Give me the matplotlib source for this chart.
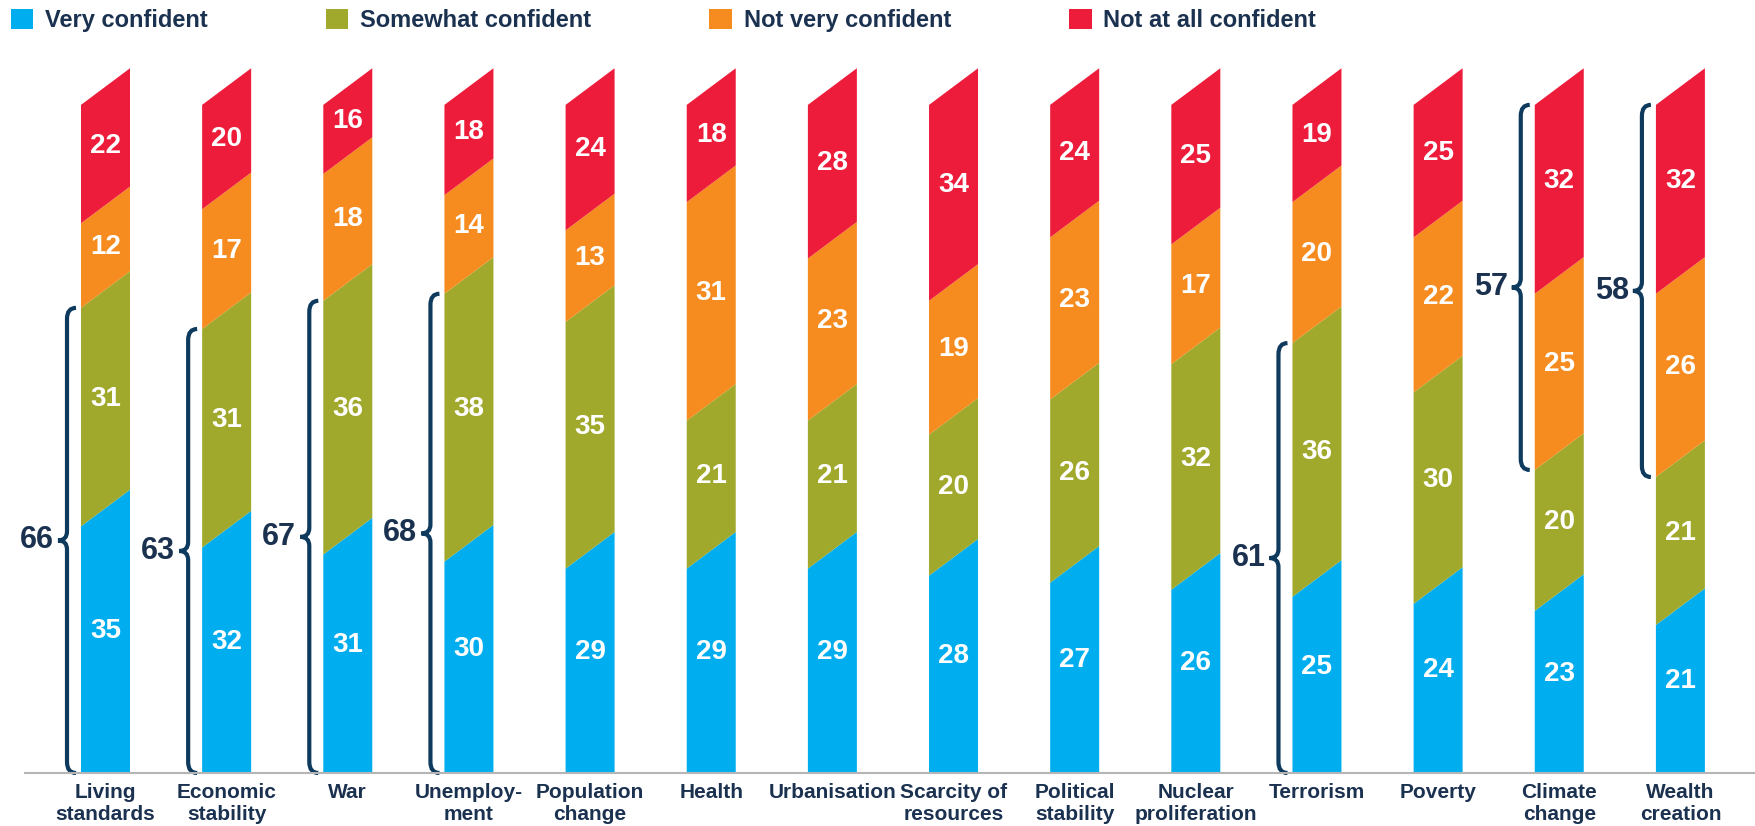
import numpy as np
import matplotlib
matplotlib.use("Agg")
import matplotlib.pyplot as plt
from matplotlib.patches import Polygon, Patch, PathPatch
from matplotlib.path import Path

plt.rcParams['font.family'] = ['Liberation Sans', 'DejaVu Sans']

categories = ["Living\nstandards", "Economic\nstability", "War", "Unemploy-\nment",
              "Population\nchange", "Health", "Urbanisation", "Scarcity of\nresources",
              "Political\nstability", "Nuclear\nproliferation", "Terrorism", "Poverty",
              "Climate\nchange", "Wealth\ncreation"]
very = [35, 32, 31, 30, 29, 29, 29, 28, 27, 26, 25, 24, 23, 21]
somewhat = [31, 31, 36, 38, 35, 21, 21, 20, 26, 32, 36, 30, 20, 21]
not_very = [12, 17, 18, 14, 13, 31, 23, 19, 23, 17, 20, 22, 25, 26]
not_at_all = [22, 20, 16, 18, 24, 18, 28, 34, 24, 25, 19, 25, 32, 32]
series_names = ["Very confident", "Somewhat confident", "Not very confident", "Not at all confident"]
colors = ["#00AEEF", "#A0A92C", "#F68B1F", "#EE1C3B"]

# braces: (bar index, which part, total shown)
brace_idx = [0, 1, 2, 3, 10, 12, 13]
brace_part = ["low", "low", "low", "low", "low", "high", "high"]
brace_val = [66, 63, 67, 68, 61, 57, 58]

navy = "#1B3150"
brace_col = "#0E3A5E"

W, H = 1756, 826
fig = plt.figure(figsize=(W / 100, H / 100), dpi=100)
ax = fig.add_axes([25 / W, 53 / H, 1 - 25 / W, 740 / H])

PXX = 1 / 121.15   # data units per pixel in x
PXY = 1 / 7.05     # data units per pixel in y
ax.set_xlim(-0.6645, 13.624)
ax.set_ylim(0, 105)

s = 5.2          # slant of segment borders
hw = 24.5 * PXX  # half bar width
data = np.array([very, somewhat, not_very, not_at_all])

for i in range(len(categories)):
    x0, x1 = i - hw, i + hw
    b = 0
    for j in range(4):
        v = data[j, i]
        t = b + v
        if j == 0:
            bottom = [(x0, 0), (x1, 0)]
        else:
            bottom = [(x0, b), (x1, b + s)]
        if j == 3:
            top = [(x1, 100), (x0, 100 - s)]
        else:
            top = [(x1, t + s), (x0, t)]
        ax.add_patch(Polygon(bottom + top, closed=True, facecolor=colors[j], edgecolor='none'))
        if j == 0:
            ly = (v + s) / 2
        elif j == 3:
            ly = (100 + b) / 2
        else:
            ly = b + v / 2 + s / 2
        ax.text(i, ly, str(v), ha='center', va='center', color='white',
                fontsize=20, fontweight='bold')
        b = t


def brace(xl, y0, y1, label):
    r = 9 * PXX
    ry = 11 * PXY
    tip = 9 * PXX
    ty = 9 * PXY
    ym = (y0 + y1) / 2
    verts = [(xl + r, y1), (xl, y1), (xl, y1 - ry), (xl, ym + ty), (xl, ym), (xl - tip, ym),
             (xl, ym), (xl, ym - ty), (xl, y0 + ry), (xl, y0), (xl + r, y0)]
    codes = [Path.MOVETO, Path.CURVE3, Path.CURVE3, Path.LINETO, Path.CURVE3, Path.CURVE3,
             Path.CURVE3, Path.CURVE3, Path.LINETO, Path.CURVE3, Path.CURVE3]
    ax.add_patch(PathPatch(Path(verts, codes), facecolor='none', edgecolor=brace_col,
                           lw=3, clip_on=False))
    ax.text(xl - tip - 4 * PXX, ym, label, ha='right', va='center', color=navy,
            fontsize=22, fontweight='bold')


for k, i in enumerate(brace_idx):
    xl = i - hw - 14 * PXX
    if brace_part[k] == "low":
        brace(xl, 0, very[i] + somewhat[i], str(brace_val[k]))
    else:
        brace(xl, very[i] + somewhat[i], 100 - s, str(brace_val[k]))

for sp in ['top', 'right', 'left']:
    ax.spines[sp].set_visible(False)
ax.spines['bottom'].set_color('#B5B5B5')
ax.spines['bottom'].set_linewidth(1.5)
ax.set_yticks([])
ax.set_xticks(range(len(categories)))
ax.set_xticklabels(categories, fontsize=15, fontweight='bold', color=navy)
for t in ax.get_xticklabels():
    t.set_linespacing(1.2)
ax.tick_params(axis='x', length=0, pad=7)

handles = [Patch(facecolor=c, edgecolor='none') for c in colors]
fig.legend(handles, series_names, loc='upper left', bbox_to_anchor=(11 / W, 1 - 9 / H),
           ncol=4, frameon=False, handlelength=0.95, handleheight=0.95,
           handletextpad=0.5, columnspacing=5.0, borderpad=0, borderaxespad=0,
           prop={'weight': 'bold', 'size': 17}, labelcolor=navy)

fig.savefig("out.png", dpi=100)
